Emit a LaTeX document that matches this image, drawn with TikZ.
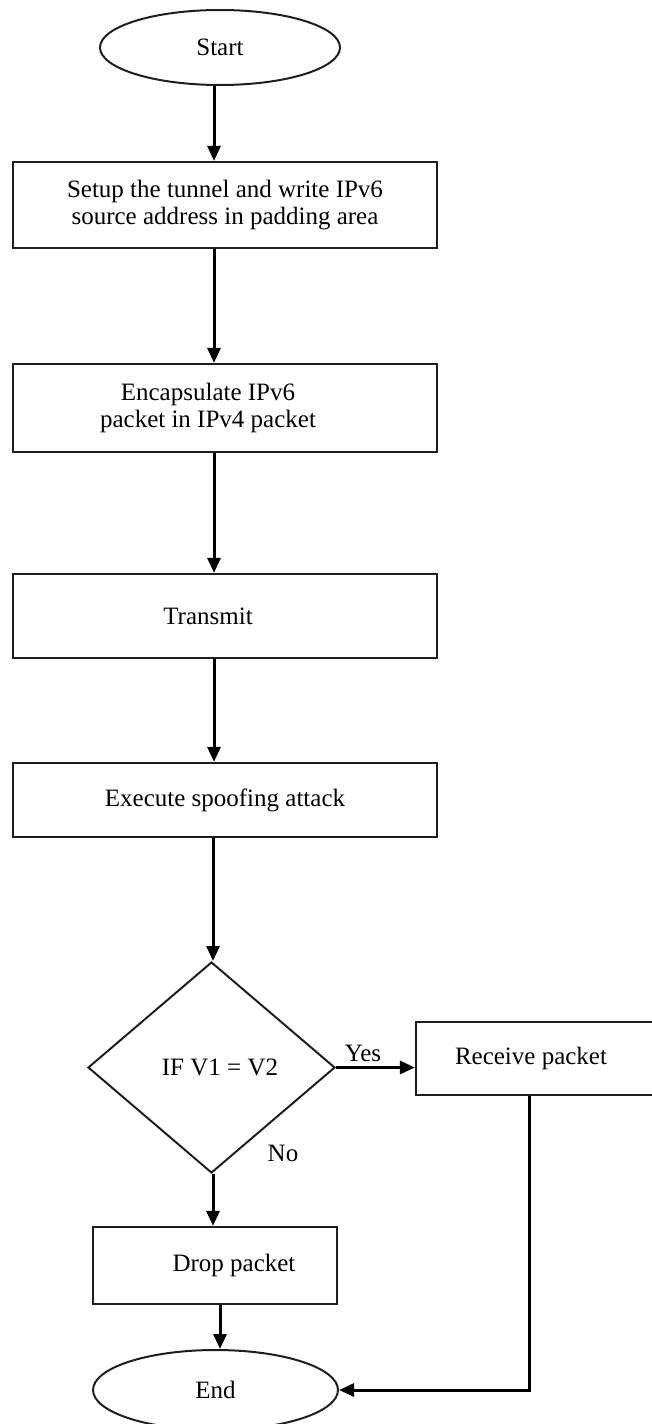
\documentclass[tikz,border=0pt]{standalone}
\usepackage{fontspec}
\setmainfont{Liberation Serif}
\usepackage{tikz}
\usetikzlibrary{arrows.meta,positioning,calc,shapes.geometric}
\definecolor{inkline}{RGB}{30,30,30}

\begin{document}
\begin{tikzpicture}[x=1pt,y=-1pt,>={Triangle[length=15pt,width=13pt]},
    font=\fontsize{25}{27}\selectfont,
    flowbox/.style={draw=inkline,line width=2.2pt,rectangle,align=center,inner sep=0pt},
    terminal/.style={draw=inkline,line width=2pt,ellipse,inner sep=0pt},
    decision/.style={draw=inkline,line width=2pt,diamond,inner sep=0pt},
    flow/.style={->,line width=3pt,draw=black}]
  \useasboundingbox (0,0) rectangle (651,1424);

  % Columns used by the vertical connectors.
  \coordinate (spine) at (214,0);
  \coordinate (dspine) at (213,0);
  \coordinate (espine) at (220,0);
  \coordinate (rline) at (529,0);

  % Main sequence of steps.
  \node[terminal,minimum width=240pt,minimum height=75pt] (start) at (220,47.5) {Start};
  \node[flowbox,minimum width=424pt,minimum height=86pt] (setup) at (225,205)
    {Setup the tunnel and write IPv6\\source address in padding area};
  \node[flowbox,minimum width=424pt,minimum height=88pt] (encap) at (225,408)
    {Encapsulate IPv6\hspace*{34pt}\\packet in IPv4 packet\hspace*{34pt}};
  \node[flowbox,minimum width=424pt,minimum height=84pt] (transmit) at (225,616)
    {Transmit\hspace*{34pt}};
  \node[flowbox,minimum width=424pt,minimum height=74pt] (spoof) at (225,800)
    {Execute spoofing attack};

  % Decision and its two outcomes.
  \node[decision,minimum width=247pt,minimum height=211pt] (check) at (211.5,1067.5)
    {\hspace*{17pt}IF V1 = V2};
  \node[flowbox,minimum width=239pt,minimum height=73pt] (recv) at (535.5,1058.5)
    {Receive packet\hspace*{9pt}};
  \node[flowbox,minimum width=244pt,minimum height=77pt] (drop) at (215,1265.5)
    {\hspace*{38pt}Drop packet};
  \node[terminal,minimum width=245pt,minimum height=80pt] (stop) at (215.5,1390) {End};

  \node (yes) at (363,1053) {Yes};
  \node (no) at (283,1153) {No};

  % Connectors.
  \draw[flow] (start.south -| spine) -- (setup.north -| spine);
  \draw[flow] (setup.south -| spine) -- (encap.north -| spine);
  \draw[flow] (encap.south -| spine) -- (transmit.north -| spine);
  \draw[flow] (transmit.south -| spine) -- (spoof.north -| spine);
  \draw[flow] (spoof.south -| dspine) -- (check.north -| dspine);
  \draw[flow] (check.east) -- (check.east -| recv.west);
  \draw[flow] (check.south -| dspine) -- (drop.north -| dspine);
  \draw[flow] (drop.south -| espine) -- (stop.north -| espine);
  \draw[flow] (recv.south -| rline) |- (stop.east);
\end{tikzpicture}
\end{document}
